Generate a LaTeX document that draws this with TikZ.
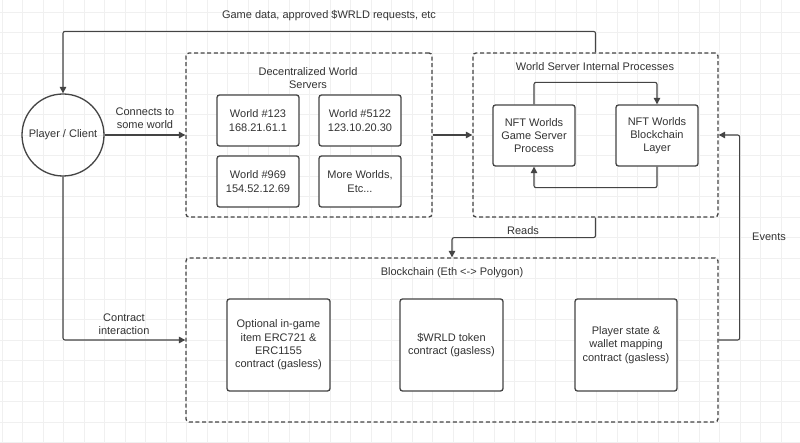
\documentclass[tikz,border=0pt]{standalone}
\usepackage{fontspec}
\setmainfont{Liberation Sans}
\usetikzlibrary{arrows.meta}
\definecolor{ink}{HTML}{444444}
\definecolor{txt}{HTML}{333333}
\definecolor{gridc}{HTML}{F0F0F0}
\begin{document}
\begin{tikzpicture}[x=1pt,y=-1pt,
  txtstyle/.style={text=txt, align=center, font=\fontsize{11}{13.3}\selectfont},
  box/.style={txtstyle, draw=ink, line width=1.3pt, rounded corners=2.5pt, inner sep=0pt, fill=white},
  group/.style={draw=ink, line width=1.3pt, dash pattern=on 4pt off 2.6pt, rounded corners=3pt, inner sep=0pt},
  conn/.style={draw=ink, line width=1.1pt, rounded corners=2pt, -{Triangle[width=6.5pt,length=6.5pt]}},
  lbl/.style={txtstyle, inner sep=1pt}]
\useasboundingbox (0,0) rectangle (800,443);
\fill[white] (0,0) rectangle (800,443);
% background grid
\foreach \i in {0,...,39} {\draw[gridc, line width=0.6pt] ({2+20.5*\i},0) -- ({2+20.5*\i},443);}
\foreach \j in {0,...,21} {\draw[gridc, line width=0.6pt] (0,{12+20.5*\j}) -- (800,{12+20.5*\j});}

% groups
\node[group, minimum width=246pt, minimum height=164pt] (dws) at (309,135) {};
\node[group, minimum width=245pt, minimum height=164pt] (wsip) at (595.5,135) {};
\node[group, minimum width=532pt, minimum height=164pt] (chain) at (452,340) {};

\node[lbl] (dwstitle) at (308,78) {Decentralized World\\Servers};
\node[lbl] (wsiptitle) at (595,67) {World Server Internal Processes};
\node[lbl] (chaintitle) at (452,273) {Blockchain (Eth <-> Polygon)};

% player
\node[txtstyle, circle, draw=ink, line width=1.3pt, minimum size=82pt, inner sep=0pt] (player) at (63,135) {Player / Client};

% worlds
\node[box, minimum width=82pt, minimum height=51pt] (w123) at (258,120.5) {World \#123\\168.21.61.1};
\node[box, minimum width=82pt, minimum height=51pt] (w5122) at (360,120.5) {World \#5122\\123.10.20.30};
\node[box, minimum width=82pt, minimum height=51pt] (w969) at (258,181.5) {World \#969\\154.52.12.69};
\node[box, minimum width=82pt, minimum height=51pt] (wmore) at (360,181.5) {More Worlds,\\Etc...};

% internal
\node[box, minimum width=82pt, minimum height=61pt] (gs) at (534,135.5) {NFT Worlds\\Game Server\\Process};
\node[box, minimum width=82pt, minimum height=61pt] (bcl) at (657,135.5) {NFT Worlds\\Blockchain\\Layer};

% contracts
\node[box, minimum width=103pt, minimum height=92pt] (c1) at (278.5,345) {Optional in-game\\item ERC721 \&\\ERC1155\\contract (gasless)};
\node[box, minimum width=103pt, minimum height=92pt] (c2) at (451.5,345) {\$WRLD token\\contract (gasless)};
\node[box, minimum width=102pt, minimum height=92pt] (c3) at (626,345) {Player state \&\\wallet mapping\\contract (gasless)};

% connectors
\draw[conn] (wsip.north) -- ++(0,-21) -| (player.north);
\node[lbl] (gamedata) at (329,16) {Game data, approved \$WRLD requests, etc};

\draw[conn] (player.east) -- (dws.west);
\node[lbl] (connlbl) at (145,118.5) {Connects to\\some world};

\draw[conn] (dws.east) -- (wsip.west);

\draw[conn] (gs.north) -- ++(0,-22) -| (bcl.north);
\draw[conn] (bcl.south) -- ++(0,21) -| (gs.south);

\draw[conn] (chain.east) -- ++(21,0) |- (wsip.east);
\node[lbl] (events) at (769,237) {Events};

\draw[conn] (wsip.south) -- ++(0,20) -| (chain.north);
\node[lbl] (reads) at (523,231) {Reads};

\draw[conn] (player.south) |- (chain.west);
\node[lbl] (contract) at (124,324) {Contract\\interaction};
\end{tikzpicture}
\end{document}
